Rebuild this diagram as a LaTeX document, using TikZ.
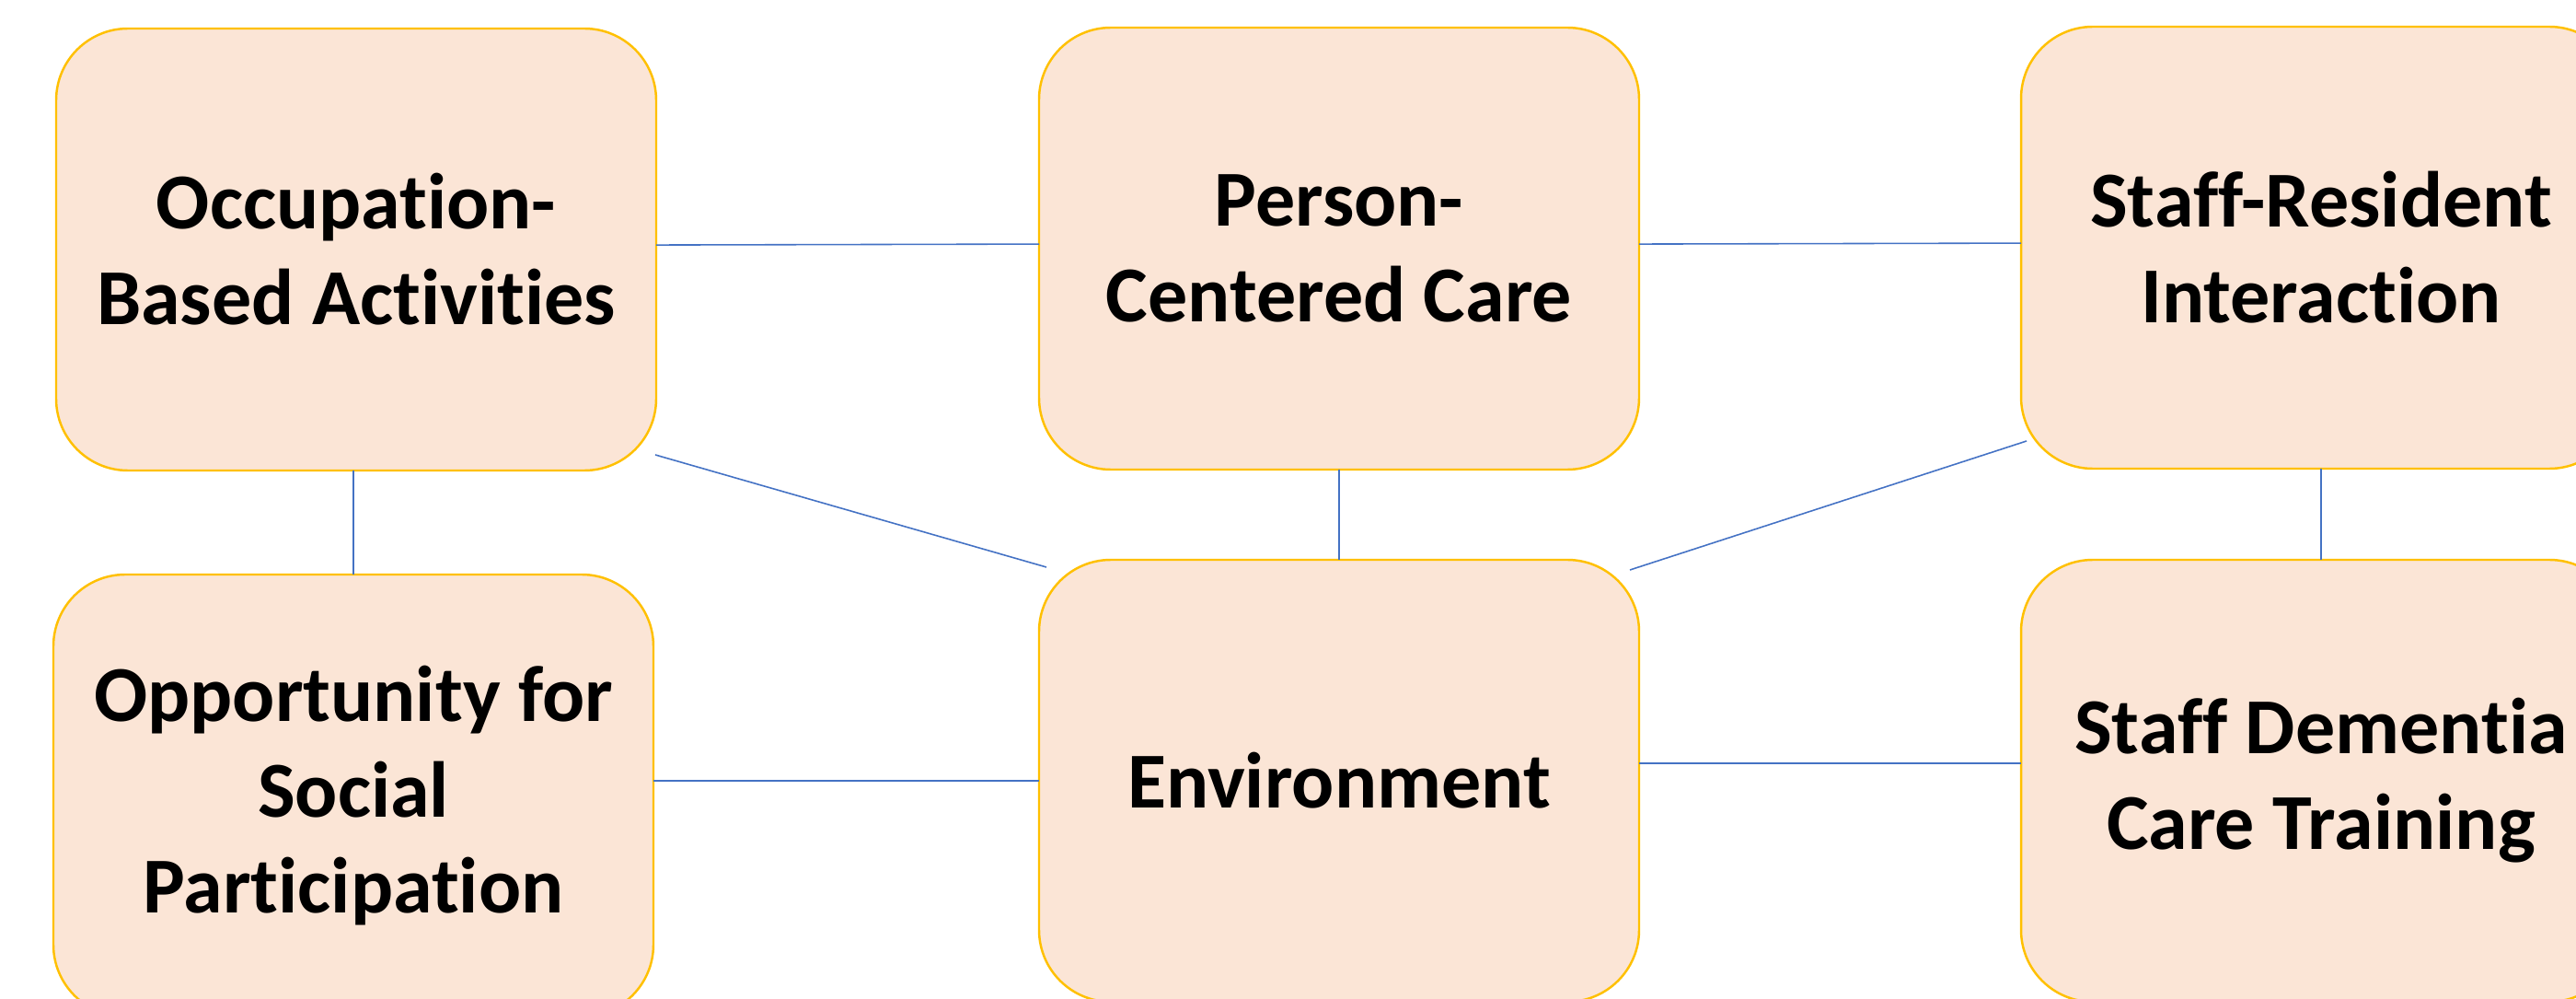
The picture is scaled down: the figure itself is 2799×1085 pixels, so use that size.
\documentclass[tikz,border=0pt]{standalone}
\usepackage{fontspec}
\setmainfont{Carlito}[Ligatures={NoCommon}]
\usepackage{tikz}
\usetikzlibrary{calc}
\usetikzlibrary{positioning}
\definecolor{boxfill}{HTML}{FBE5D6}
\definecolor{boxline}{HTML}{FFC000}
\definecolor{linkblue}{HTML}{4472C4}

\begin{document}
\begin{tikzpicture}[x=0.1mm,y=-0.1mm]
  % some styles
  \tikzset{
    box/.style={
      rectangle,
      rounded corners=7.8mm,
      minimum width=65.2mm,
      minimum height=48mm,
      inner sep=0mm,
      outer sep=0mm,
      align=center,
      fill=boxfill,
      draw=boxline,
      line width=0.7pt,
      font=\fontsize{24.5}{29.6}\selectfont\bfseries
    }
  }
  \tikzset{link/.style={draw=linkblue,line width=0.45pt}}

  \useasboundingbox (0,0) rectangle (2799,1085);
  \clip (0,0) rectangle (2799,1085);

  % top row
  \node[box] (occ) at (387,271) {Occupation-\\Based Activities};
  \node[box] (pcc) at (1455,270) {Person-\\Centered Care};
  \node[box] (sri) at (2522,269) {Staff-Resident\\Interaction};
  % bottom row
  \node[box] (osp) at (384,864) {Opportunity for\\Social\\Participation};
  \node[box] (env) at (1455,848) {Environment};
  \node[box] (sdt) at (2522,848) {Staff Dementia\\Care Training};

  % links
  \draw[link] ([yshift=1.4pt]occ.east) -- ([yshift=1.4pt]pcc.west);
  \draw[link] ([yshift=1.4pt]pcc.east) -- ([yshift=1.4pt]sri.west);
  \draw[link] (osp.north |- occ.south) -- (osp.north);
  \draw[link] (pcc.south) -- (env.north);
  \draw[link] (sri.south) -- (sdt.north);
  \draw[link] (osp.east |- env.west) -- (env.west);
  \draw[link] ([yshift=5.4pt]env.east) -- ([yshift=5.4pt]sdt.west);
  \draw[link] ($(occ.south east)+(-1,-17)$) -- ($(env.north west)+(8,8)$);
  \draw[link] ($(env.north east)+(-10,11)$) -- ($(sri.south west)+(6,-30)$);

\end{tikzpicture}
\end{document}
